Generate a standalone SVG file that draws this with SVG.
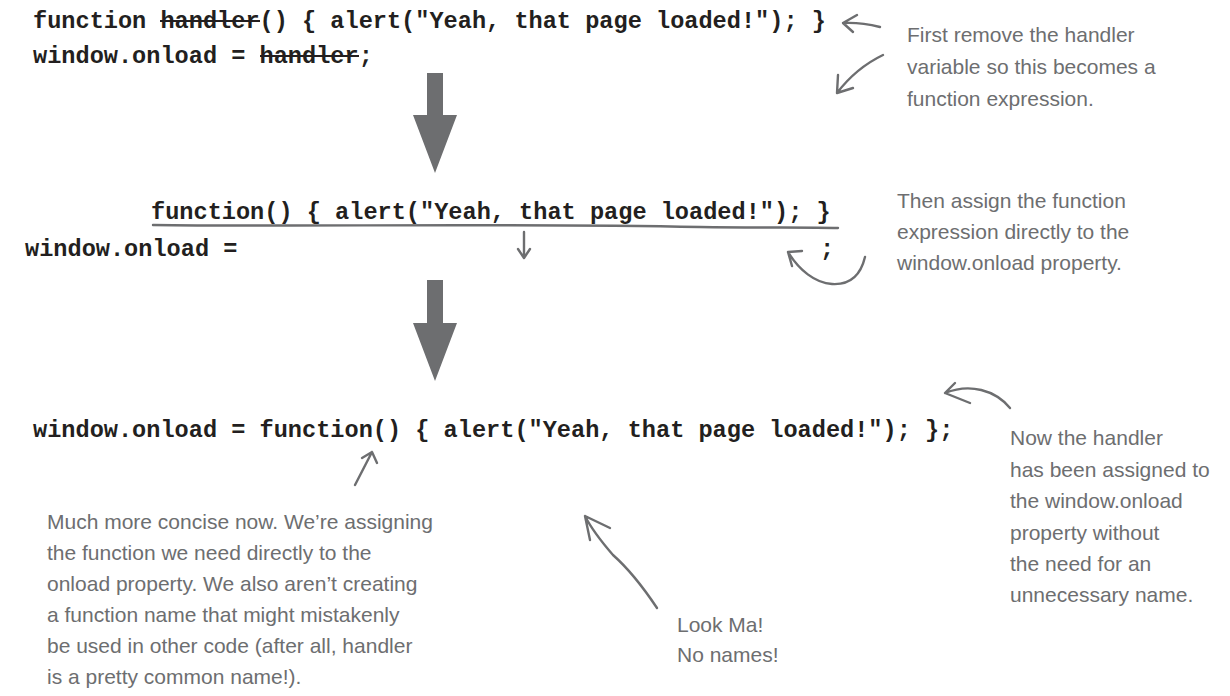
<svg xmlns="http://www.w3.org/2000/svg" width="1230" height="696" viewBox="0 0 1230 696">
<style>
.code{font-family:"Liberation Mono","Courier New",monospace;font-weight:bold;font-size:23.6px;fill:#231f20}
.note{font-family:"Liberation Sans",Arial,sans-serif;font-size:21px;fill:#6d6e70}
.pen{fill:none;stroke:#6d6e70;stroke-width:2.4;stroke-linecap:round;stroke-linejoin:round}
.big{fill:#6d6e70}
</style>
<rect width="1230" height="696" fill="#ffffff"/>
<g id="code-step1">
<text class="code" x="33" y="28">function handler() { alert("Yeah, that page loaded!"); }</text>
<text class="code" x="33" y="63">window.onload = handler;</text>
<line x1="160" y1="21" x2="260" y2="21" stroke="#231f20" stroke-width="2"/>
<line x1="260" y1="56" x2="359" y2="56" stroke="#231f20" stroke-width="2"/>
</g>
<g id="code-step2">
<text class="code" x="151" y="219">function() { alert("Yeah, that page loaded!"); }</text>
<text class="code" x="25" y="256">window.onload =</text>
<text class="code" x="820" y="256">;</text>
</g>
<g id="code-step3">
<text class="code" x="33" y="437">window.onload = function() { alert("Yeah, that page loaded!"); };</text>
</g>
<g id="note-first">
<text class="note" x="907" y="42">First remove the handler</text>
<text class="note" x="907" y="74">variable so this becomes a</text>
<text class="note" x="907" y="106">function expression.</text>
</g>
<g id="note-then">
<text class="note" x="897" y="208">Then assign the function</text>
<text class="note" x="897" y="239">expression directly to the</text>
<text class="note" x="897" y="270">window.onload property.</text>
</g>
<g id="note-now">
<text class="note" x="1010" y="445">Now the handler</text>
<text class="note" x="1010" y="477">has been assigned to</text>
<text class="note" x="1010" y="508">the window.onload</text>
<text class="note" x="1010" y="540">property without</text>
<text class="note" x="1010" y="571">the need for an</text>
<text class="note" x="1010" y="602">unnecessary name.</text>
</g>
<g id="note-much">
<text class="note" x="47" y="529">Much more concise now. We’re assigning</text>
<text class="note" x="47" y="560">the function we need directly to the</text>
<text class="note" x="47" y="591">onload property. We also aren’t creating</text>
<text class="note" x="47" y="622">a function name that might mistakenly</text>
<text class="note" x="47" y="653">be used in other code (after all, handler</text>
<text class="note" x="47" y="684">is a pretty common name!).</text>
</g>
<g id="note-look">
<text class="note" x="677" y="632">Look Ma!</text>
<text class="note" x="677" y="662">No names!</text>
</g>
<g id="connectors">
<path class="big" d="M427,73 H443 V115 H457 L435,173 L413,115 H427 Z"/>
<path class="big" d="M427,280 H443 V323 H457 L435,381 L413,323 H427 Z"/>
<path class="pen" d="M153,225 C300,227 500,223 700,227 C760,228 810,227 838,228"/>
<path class="pen" d="M880,27 Q860,22 843,23 M857,15 L843,23 L853,32"/>
<path class="pen" d="M883,55 Q856,68 837,93 M838,75 L837,93 L853,88"/>
<path class="pen" d="M524,232 V257 M518,249 L524,258 L530,249"/>
<path class="pen" d="M865,257 C860,278 848,285 832,284 C815,283 799,270 788,252 M802,251 L788,252 L792,266"/>
<path class="pen" d="M1010,408 C995,390 970,383 945,393 M955,383 L945,393 L970,403"/>
<path class="pen" d="M355,485 L372,452 M362,458 L372,452 L377,463"/>
<path class="pen" d="M657,608 C645,590 630,570 613,555 C600,540 592,530 585,516 M585,516 L590,540 M585,516 L610,528"/>
</g>
</svg>
